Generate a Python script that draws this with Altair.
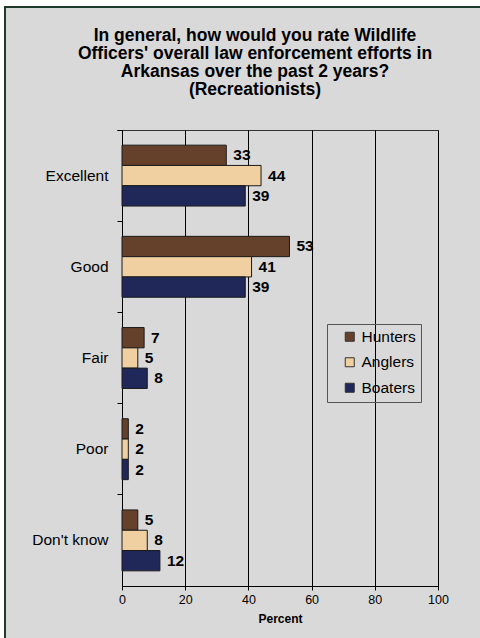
import altair as alt
import pandas as pd

FONT = "Liberation Sans"

categories = ["Excellent", "Good", "Fair", "Poor", "Don't know"]
groups = ["Hunters", "Anglers", "Boaters"]
hunters = [33, 53, 7, 2, 5]
anglers = [44, 41, 5, 2, 8]
boaters = [39, 39, 8, 2, 12]
x_ticks = [0, 20, 40, 60, 80, 100]
colors = ["#65412c", "#f0cfa0", "#1f2859"]
title_lines = [
    "In general, how would you rate Wildlife",
    "Officers' overall law enforcement efforts in",
    "Arkansas over the past 2 years?",
    "(Recreationists)",
]

rows = []
for g, vals in zip(groups, [hunters, anglers, boaters]):
    for c, v in zip(categories, vals):
        rows.append({"Rating": c, "Group": g, "Percent": v})
df = pd.DataFrame(rows)

W, H = 316, 456

y_enc = alt.Y(
    "Rating:N", sort=categories,
    scale=alt.Scale(paddingInner=0, paddingOuter=0),
    axis=alt.Axis(title=None, bandPosition=0, tickExtra=True, tickSize=5,
                  tickColor="black", domainColor="black", labelFontSize=15.5,
                  labelFont=FONT, labelColor="black", labelPadding=9, grid=False),
)
yoff_enc = alt.YOffset("Group:N", sort=groups,
                       scale=alt.Scale(paddingInner=0, paddingOuter=0.746))
x_enc = alt.X(
    "Percent:Q", scale=alt.Scale(domain=[0, 100], nice=False),
    axis=alt.Axis(values=x_ticks, title="Percent", titleFont=FONT, titleFontSize=12,
                  titleFontWeight="bold", titleColor="black", titlePadding=8,
                  labelFont=FONT, labelFontSize=12.5, labelColor="black", labelPadding=3,
                  labelFlush=False, tickSize=4, tickColor="black", domainColor="black",
                  grid=True, gridColor="black", gridOpacity=1, gridWidth=1),
)

base = alt.Chart(df)

bars = base.mark_bar(stroke="#1a1a1a", strokeWidth=1).encode(
    y=y_enc, yOffset=yoff_enc, x=x_enc,
    color=alt.Color(
        "Group:N", sort=groups,
        scale=alt.Scale(domain=groups, range=colors),
        legend=alt.Legend(
            title=None, orient="none", legendX=205, legendY=194,
            padding=5, strokeColor="#555555", symbolType="square", symbolSize=81,
            symbolStrokeColor="#333333", symbolStrokeWidth=1,
            labelFont=FONT, labelFontSize=15.5, labelColor="black",
            rowPadding=8.5, symbolOffset=10, labelOffset=4,
            labelExpr="datum.label + '  '",
        ),
    ),
)

labels = base.mark_text(
    align="left", baseline="middle", dx=7, font=FONT, fontSize=15.5,
    fontWeight="bold", color="black",
).encode(y=alt.Y("Rating:N", sort=categories), yOffset=yoff_enc,
         x=alt.X("Percent:Q"), text="Percent:Q")

one = pd.DataFrame({"k": [0]})


def frame_rect(color, x, x2, y, y2):
    return alt.Chart(one).mark_rect(color=color, strokeWidth=0).encode(
        x=alt.value(x), x2=alt.value(x2), y=alt.value(y), y2=alt.value(y2))


# outer page frame: white margin strips and dark border lines on top/left only
frame = [
    frame_rect("white", -122, 400, -130, -124),
    frame_rect("white", -122, -118, -130, 560),
    frame_rect("#1e3a2a", -118, 400, -124, -122),
    frame_rect("#1e3a2a", -118, -116, -124, 560),
]

chart = alt.layer(*frame, bars, labels).properties(
    width=W, height=H,
    autosize=alt.AutoSizeParams(type="none"),
    padding={"left": 122, "top": 130, "right": 42, "bottom": 52},
    title=alt.TitleParams(
        text=title_lines, font=FONT, fontSize=17.5, fontWeight="bold", color="black",
        lineHeight=18.3, anchor="middle", frame="group", dx=-25, offset=-99,
    ),
).configure(background="#d9d9d9").configure_view(stroke="#333333", strokeWidth=1)

chart.save("out.html", embed_options={"renderer": "svg", "actions": False})
